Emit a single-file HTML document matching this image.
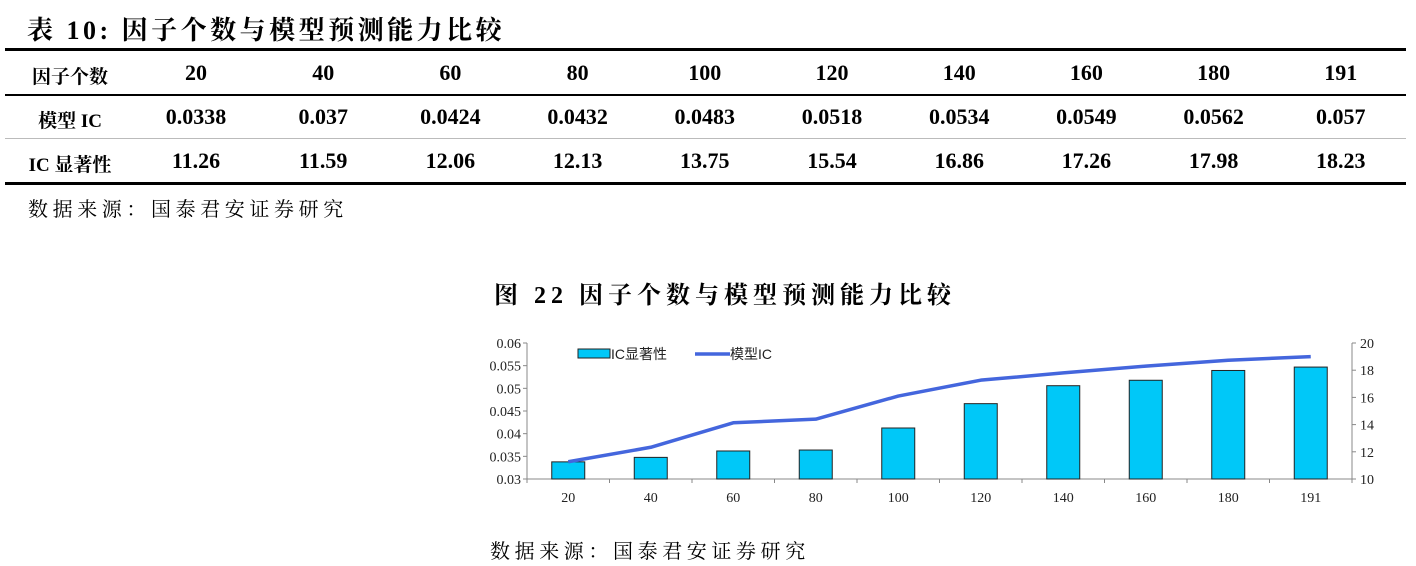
<!DOCTYPE html>
<html><head><meta charset="utf-8"><style>
body{margin:0;width:1416px;height:566px;background:#fff;position:relative;overflow:hidden;font-family:"Liberation Serif","Noto Serif CJK SC",serif;}
.abs{position:absolute;}
.hr{position:absolute;left:5px;width:1401px;background:#000;}
.cell{position:absolute;width:127px;text-align:center;font-weight:bold;font-size:22px;transform:translateX(-50%);}
.lbl{font-size:19px;top:2px;}
</style></head><body>
<div class="abs" style="left:27px;top:10px;font-size:26px;font-weight:bold;letter-spacing:3.5px;">表 10: 因子个数与模型预测能力比较</div>
<div class="hr" style="top:48px;height:3px;"></div>
<div class="hr" style="top:94px;height:2px;"></div>
<div class="hr" style="top:138px;height:1px;background:#bbb;"></div>
<div class="hr" style="top:182px;height:3px;"></div>
<div id="table"></div>
<div class="abs" style="left:28px;top:193px;font-size:20px;letter-spacing:4.6px;">数据来源：国泰君安证券研究</div>
<div class="abs" style="left:494px;top:275px;font-size:24px;font-weight:bold;letter-spacing:5px;">图 22 因子个数与模型预测能力比较</div>
<svg class="abs" style="left:0;top:0" width="1416" height="566" id="chart"></svg>
<div class="abs" style="left:490px;top:535px;font-size:20px;letter-spacing:4.6px;">数据来源：国泰君安证券研究</div>
<script>
const categories=["20","40","60","80","100","120","140","160","180","191"];
const modelIC=[0.0338,0.037,0.0424,0.0432,0.0483,0.0518,0.0534,0.0549,0.0562,0.057];
const icSig=[11.26,11.59,12.06,12.13,13.75,15.54,16.86,17.26,17.98,18.23];
const leftTicks=[0.03,0.035,0.04,0.045,0.05,0.055,0.06];
const leftTickLabels=["0.03","0.035","0.04","0.045","0.05","0.055","0.06"];
const rightTicks=[10,12,14,16,18,20];
const rowLabels=["因子个数","模型 IC","IC 显著性"];

const tb=document.getElementById('table');
const rowY=[60,104,148];
const colX=i=>196+i*127.2;
function cell(txt,x,y,name,extra){const d=document.createElement('div');d.className='cell'+(extra?' '+extra:'');d.style.left=x+'px';d.style.top=(y+(extra?2:0))+'px';d.textContent=txt;


tb.appendChild(d);}
rowLabels.forEach((l,r)=>cell(l,70,rowY[r],'row-label','lbl'));
categories.forEach((c,i)=>cell(c,colX(i),rowY[0],'header-cell'));
modelIC.forEach((v,i)=>cell(String(v),colX(i),rowY[1],'ic-cell'));
icSig.forEach((v,i)=>cell(v.toFixed(2),colX(i),rowY[2],'sig-cell'));

const svg=document.getElementById('chart');const NS='http://www.w3.org/2000/svg';
const X0=527,X1=1352,Y0=479,Y1=343;
const band=(X1-X0)/categories.length;
const xc=i=>X0+band*(i+0.5);
const yL=v=>Y0-(v-0.03)/(0.06-0.03)*(Y0-Y1);
const yR=v=>Y0-(v-10)/(20-10)*(Y0-Y1);
function el(t,a,name){const e=document.createElementNS(NS,t);for(const k in a)e.setAttribute(k,a[k]);


svg.appendChild(e);return e;}
const F='"Liberation Serif","Noto Serif CJK SC",serif';
el('line',{x1:X0,y1:Y1,x2:X0,y2:Y0,stroke:'#888'},'left-axis');
el('line',{x1:X1,y1:Y1,x2:X1,y2:Y0,stroke:'#888'},'right-axis');
el('line',{x1:X0,y1:Y0,x2:X1,y2:Y0,stroke:'#888'},'x-axis');
leftTicks.forEach((v,i)=>{el('line',{x1:X0-4,x2:X0,y1:yL(v),y2:yL(v),stroke:'#888'},'left-tick');
const t=el('text',{x:X0-6,y:yL(v)+5,'text-anchor':'end','font-size':14,'font-family':F,fill:'#222'},'left-tick-label');t.textContent=leftTickLabels[i];});
rightTicks.forEach(v=>{el('line',{x1:X1,x2:X1+4,y1:yR(v),y2:yR(v),stroke:'#888'},'right-tick');
const t=el('text',{x:X1+8,y:yR(v)+5,'font-size':14,'font-family':F,fill:'#222'},'right-tick-label');t.textContent=v;});
for(let i=0;i<=categories.length;i++)el('line',{x1:X0+band*i,x2:X0+band*i,y1:Y0,y2:Y0+4,stroke:'#888'},'x-tick');
categories.forEach((c,i)=>{const t=el('text',{x:xc(i),y:Y0+23,'text-anchor':'middle','font-size':14,'font-family':F,fill:'#222'},'x-tick-label');t.textContent=c;});
icSig.forEach((v,i)=>{el('rect',{x:xc(i)-16.5,y:yR(v),width:33,height:Y0-yR(v),fill:'#00c8f8',stroke:'#222','stroke-width':1},'bar-'+categories[i]);});
el('polyline',{points:modelIC.map((v,i)=>xc(i)+','+yL(v)).join(' '),fill:'none',stroke:'#4466dd','stroke-width':3.5,'stroke-linejoin':'round'},'model-ic-line');
el('rect',{x:578,y:349,width:32,height:9,fill:'#00c8f8',stroke:'#222'},'legend-bar-swatch');
let t=el('text',{x:611,y:359,'font-size':14,'font-family':'"Liberation Sans","Noto Sans CJK SC",sans-serif',fill:'#222'},'legend-bar-label');t.textContent='IC显著性';
el('line',{x1:695,x2:730,y1:354,y2:354,stroke:'#4466dd','stroke-width':3.5},'legend-line-swatch');
t=el('text',{x:730,y:359,'font-size':14,'font-family':'"Liberation Sans","Noto Sans CJK SC",sans-serif',fill:'#222'},'legend-line-label');t.textContent='模型IC';
</script>
</body></html>
